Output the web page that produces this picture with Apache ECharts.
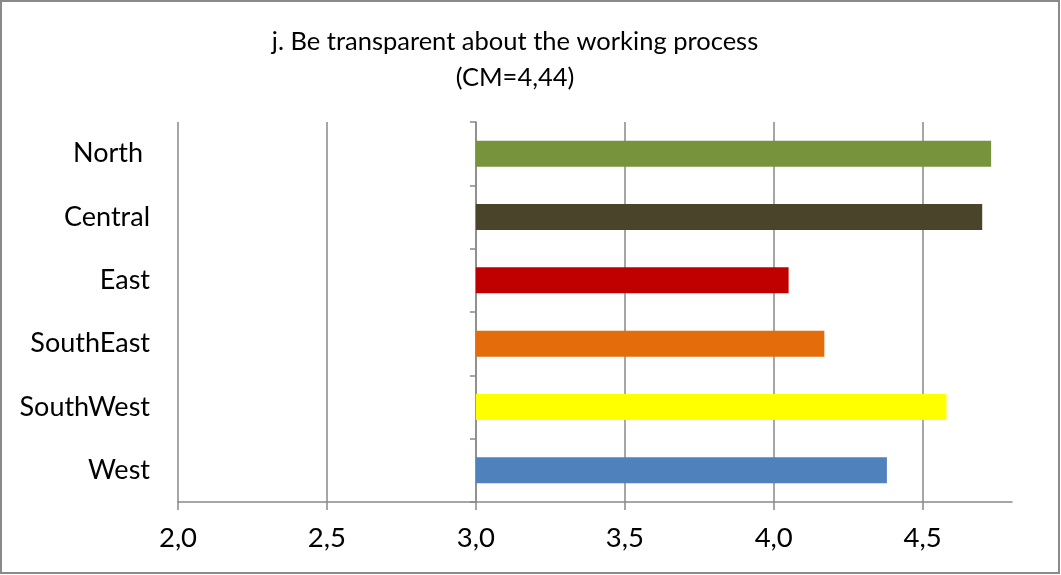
<!DOCTYPE html>
<html>
<head>
<meta charset="utf-8">
<script src="https://cdn.jsdelivr.net/npm/echarts@6/dist/echarts.min.js"></script>
<style>
html,body{margin:0;padding:0;background:#fff;}
#chart{width:1061px;height:575px;}
</style>
</head>
<body>
<div id="chart"></div>
<script>
// ---- data ----
const titleText = 'j. Be transparent about the working process';
const subtitleText = '(CM=4,44)';
// bottom-to-top order (ECharts category y axis grows upward)
const categories = ['West', 'SouthWest', 'SouthEast', 'East', 'Central', 'North '];
const values = [4.38, 4.58, 4.17, 4.05, 4.70, 4.73];
const xTicks = [2.0, 2.5, 3.0, 3.5, 4.0, 4.5];
const xMin = 2.0;
const xMax = 4.8;
const barBase = 3.0; // category axis crosses the value axis here

// ---- styles ----
const barColors = ['#4F81BD', '#FFFF00', '#E46C0A', '#C00000', '#4A452A', '#77933C'];
const FONT = 'Lato';
const GRID_COLOR = '#898989';

const chart = echarts.init(document.getElementById('chart'), null, {renderer: 'canvas'});

const option = {
  backgroundColor: '#ffffff',
  animation: false,
  title: {
    text: titleText + '\n' + subtitleText,
    left: 510,
    top: 19,
    textAlign: 'center',
    textStyle: {
      fontFamily: FONT, fontSize: 25.5, fontWeight: 'normal', color: '#000',
      lineHeight: 36, align: 'center'
    }
  },
  grid: {left: 178, right: 49, top: 122, bottom: 73, containLabel: false},
  xAxis: {
    type: 'value',
    min: xMin, max: xMax,
    axisLine: {show: true, lineStyle: {color: GRID_COLOR, width: 1.5}},
    axisTick: {show: true, length: 8, customValues: xTicks, lineStyle: {color: GRID_COLOR, width: 1.5}},
    splitLine: {show: true, lineStyle: {color: GRID_COLOR, width: 1.5}},
    axisLabel: {
      customValues: xTicks,
      margin: 22,
      fontFamily: FONT, fontSize: 27.5, color: '#000',
      formatter: v => v.toFixed(1).replace('.', ',')
    }
  },
  yAxis: [
    {
      type: 'category',
      data: categories,
      axisLine: {show: false},
      axisTick: {show: false},
      splitLine: {show: false},
      axisLabel: {margin: 28, fontFamily: FONT, fontSize: 27, color: '#000'}
    },
    {
      type: 'category',
      data: categories,
      position: 'left',
      offset: -298,
      axisLine: {show: true, lineStyle: {color: GRID_COLOR, width: 1.5}},
      axisTick: {show: true, length: 6, lineStyle: {color: GRID_COLOR, width: 1.5}},
      axisLabel: {show: false},
      splitLine: {show: false}
    }
  ],
  series: [{
    type: 'custom',
    yAxisIndex: 0,
    data: values.map((v, i) => [v, i]),
    encode: {x: 0, y: 1},
    renderItem: function (params, api) {
      const v = api.value(0);
      const c = api.value(1);
      const start = api.coord([barBase, c]);
      const end = api.coord([v, c]);
      const h = api.size([0, 1])[1] * 0.41;
      return {
        type: 'rect',
        shape: {x: start[0], y: start[1] - h / 2, width: end[0] - start[0], height: h},
        style: {fill: barColors[params.dataIndex]}
      };
    },
    z: 3
  }],
  graphic: [{
    type: 'rect',
    silent: true,
    z: 100,
    shape: {x: 1, y: 1, width: 1058, height: 572},
    style: {fill: 'none', stroke: '#8a8a8a', lineWidth: 2}
  }]
};
chart.setOption(option);
</script>
</body>
</html>
